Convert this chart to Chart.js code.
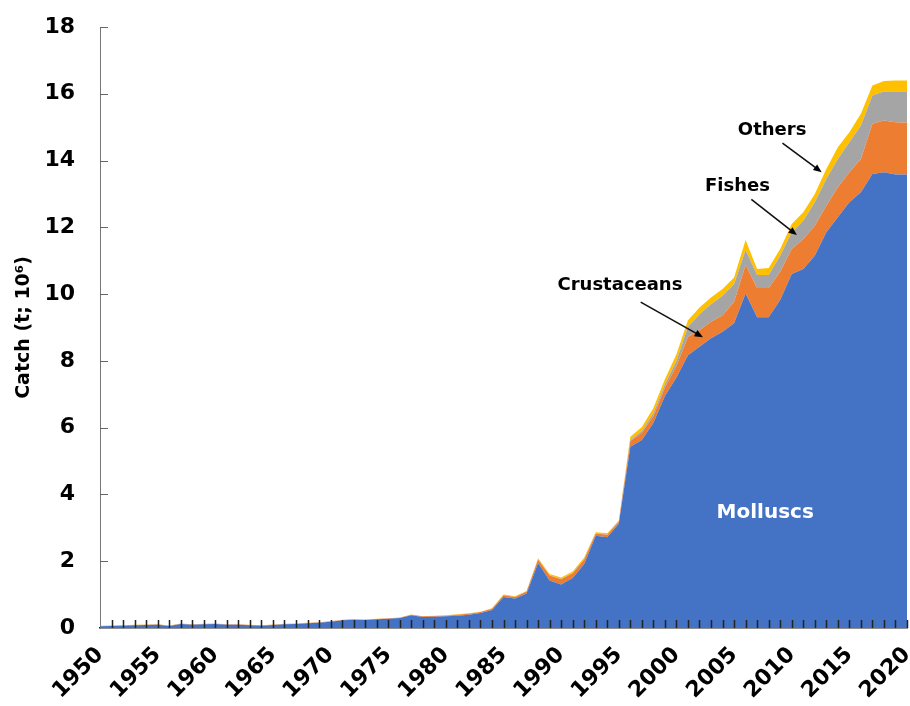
<!DOCTYPE html>
<html>
<head>
<meta charset="utf-8">
<script src="https://cdn.jsdelivr.net/npm/chart.js@4.4.1/dist/chart.umd.min.js"></script>
<style>
  html, body { margin: 0; padding: 0; background: #fff; }
  #wrap { width: 910px; height: 706px; position: relative; }
</style>
</head>
<body>
<div id="wrap"><canvas id="catchChart"></canvas></div>
<script>
const years = [];
for (let y = 1950; y <= 2020; y++) years.push(y);

const molluscs = [
  0.05, 0.06, 0.07, 0.08, 0.09, 0.10, 0.06, 0.12, 0.10, 0.11,
  0.12, 0.10, 0.10, 0.08, 0.07, 0.09, 0.11, 0.12, 0.14, 0.16,
  0.19, 0.23, 0.25, 0.24, 0.26, 0.28, 0.30, 0.38, 0.33, 0.34,
  0.35, 0.37, 0.40, 0.45, 0.54, 0.93, 0.88, 1.03, 1.95, 1.42,
  1.30, 1.50, 1.92, 2.76, 2.72, 3.12, 5.43, 5.63, 6.14, 6.95,
  7.50, 8.17, 8.42, 8.68, 8.87, 9.13, 10.02, 9.31, 9.31, 9.82,
  10.60, 10.75, 11.15, 11.85, 12.30, 12.75, 13.05, 13.60, 13.65, 13.58,
  13.58
];
const crustaceans = [
  0.01, 0.01, 0.01, 0.01, 0.01, 0.01, 0.01, 0.01, 0.01, 0.01,
  0.01, 0.01, 0.01, 0.01, 0.01, 0.01, 0.01, 0.01, 0.01, 0.01,
  0.01, 0.01, 0.01, 0.01, 0.01, 0.01, 0.01, 0.02, 0.02, 0.02,
  0.02, 0.03, 0.03, 0.03, 0.04, 0.05, 0.05, 0.06, 0.10, 0.15,
  0.16, 0.14, 0.13, 0.07, 0.07, 0.06, 0.17, 0.22, 0.21, 0.25,
  0.35, 0.55, 0.50, 0.49, 0.50, 0.64, 0.85, 0.87, 0.87, 0.85,
  0.75, 0.90, 0.90, 0.80, 0.90, 0.90, 1.00, 1.50, 1.55, 1.57,
  1.55
];
const fishes = [
  0, 0, 0, 0, 0, 0, 0, 0, 0, 0,
  0, 0, 0, 0, 0, 0, 0, 0, 0, 0,
  0, 0, 0, 0, 0, 0, 0, 0, 0, 0,
  0, 0, 0, 0, 0, 0, 0, 0, 0.01, 0.01,
  0.01, 0.01, 0.02, 0.01, 0.01, 0.01, 0.03, 0.05, 0.08, 0.10,
  0.15, 0.30, 0.48, 0.53, 0.58, 0.53, 0.45, 0.39, 0.39, 0.48,
  0.50, 0.55, 0.70, 0.80, 0.85, 0.90, 1.00, 0.85, 0.87, 0.92,
  0.94
];
const others = [
  0.005, 0.005, 0.005, 0.005, 0.005, 0.005, 0.005, 0.005, 0.005, 0.005,
  0.005, 0.005, 0.005, 0.005, 0.005, 0.005, 0.005, 0.005, 0.005, 0.005,
  0.005, 0.005, 0.005, 0.005, 0.005, 0.005, 0.005, 0.005, 0.005, 0.005,
  0.01, 0.01, 0.01, 0.01, 0.01, 0.02, 0.02, 0.02, 0.03, 0.04,
  0.04, 0.04, 0.04, 0.03, 0.04, 0.03, 0.10, 0.12, 0.16, 0.15,
  0.20, 0.20, 0.20, 0.20, 0.20, 0.20, 0.30, 0.18, 0.21, 0.20,
  0.25, 0.25, 0.25, 0.30, 0.35, 0.30, 0.35, 0.30, 0.31, 0.33,
  0.33
];

// text labels with arrows, in data units (year, catch)
const notes = [
  { text: 'Crustaceans', at: [1995.1, 10.27], from: [1996.9, 9.76], to: [2002.3, 8.71] },
  { text: 'Fishes', at: [2005.3, 13.23], from: [2006.5, 12.84], to: [2010.45, 11.77] },
  { text: 'Others', at: [2008.3, 14.91], from: [2009.2, 14.52], to: [2012.6, 13.65] }
];

const FONT = "'DejaVu Sans', sans-serif";

function xPix(scale, yr) {
  return scale.getPixelForValue(yr - years[0]);
}

const axisMarks = {
  id: 'axisMarks',
  afterDatasetsDraw(chart) {
    const { ctx, scales: { x, y } } = chart;
    ctx.save();
    ctx.strokeStyle = '#222';
    ctx.lineWidth = 1.5;
    ctx.beginPath();
    for (let i = 1; i < years.length; i++) {
      const px = Math.round(x.getPixelForValue(i)) + 0.5;
      ctx.moveTo(px, y.bottom);
      ctx.lineTo(px, y.bottom - 8);
    }
    ctx.stroke();
    ctx.strokeStyle = '#666';
    ctx.lineWidth = 1;
    ctx.beginPath();
    for (let v = 2; v <= 18; v += 2) {
      const py = Math.round(y.getPixelForValue(v)) + 0.5;
      ctx.moveTo(x.left, py);
      ctx.lineTo(x.left + 8, py);
    }
    ctx.stroke();

    // annotations
    ctx.font = 'bold 18px ' + FONT;
    ctx.textAlign = 'center';
    ctx.textBaseline = 'middle';
    ctx.fillStyle = '#000';
    ctx.strokeStyle = '#111';
    ctx.lineWidth = 1.6;
    notes.forEach(n => {
      ctx.fillText(n.text, xPix(x, n.at[0]), y.getPixelForValue(n.at[1]));
      const x1 = xPix(x, n.from[0]), y1 = y.getPixelForValue(n.from[1]);
      const x2 = xPix(x, n.to[0]), y2 = y.getPixelForValue(n.to[1]);
      const ang = Math.atan2(y2 - y1, x2 - x1);
      const hl = 9;
      ctx.beginPath();
      ctx.moveTo(x1, y1);
      ctx.lineTo(x2 - Math.cos(ang) * hl * 0.8, y2 - Math.sin(ang) * hl * 0.8);
      ctx.stroke();
      ctx.beginPath();
      ctx.moveTo(x2, y2);
      ctx.lineTo(x2 - hl * Math.cos(ang - 0.4), y2 - hl * Math.sin(ang - 0.4));
      ctx.lineTo(x2 - hl * Math.cos(ang + 0.4), y2 - hl * Math.sin(ang + 0.4));
      ctx.closePath();
      ctx.fill();
    });

    ctx.font = 'bold 20px ' + FONT;
    ctx.fillStyle = '#fff';
    ctx.fillText('Molluscs', xPix(x, 2007.7), y.getPixelForValue(3.44));
    ctx.restore();
  }
};

const series = [
  { label: 'Molluscs', data: molluscs, color: '#4472C4' },
  { label: 'Crustaceans', data: crustaceans, color: '#ED7D31' },
  { label: 'Fishes', data: fishes, color: '#A5A5A5' },
  { label: 'Others', data: others, color: '#FFC000' }
];

new Chart(document.getElementById('catchChart'), {
  type: 'line',
  data: {
    labels: years,
    datasets: series.map((s, i) => ({
      label: s.label,
      data: s.data,
      backgroundColor: s.color,
      borderColor: s.color,
      borderWidth: 0,
      pointRadius: 0,
      tension: 0,
      fill: i === 0 ? 'origin' : '-1'
    }))
  },
  options: {
    responsive: true,
    maintainAspectRatio: false,
    animation: false,
    layout: { padding: { top: 27, right: 3, left: 0, bottom: 0 } },
    plugins: {
      legend: { display: false },
      tooltip: { enabled: false }
    },
    scales: {
      x: {
        offset: false,
        z: 1,
        afterFit(scale) {
          scale.height = 78;
          scale.paddingLeft = 0;
          scale.paddingRight = 0;
        },
        grid: { display: true, drawOnChartArea: false, drawTicks: false },
        border: { display: true, color: '#222', width: 1.5 },
        ticks: {
          autoSkip: false,
          maxRotation: 45,
          minRotation: 45,
          padding: 14,
          color: '#000',
          font: { family: FONT, size: 22, weight: 'bold' },
          callback(value) {
            const yr = years[value];
            return yr % 5 === 0 ? String(yr) : '';
          }
        }
      },
      y: {
        stacked: true,
        min: 0,
        max: 18,
        afterFit(scale) {
          scale.width = 100;
          scale.paddingTop = 0;
          scale.paddingBottom = 0;
        },
        grid: { display: true, drawOnChartArea: false, drawTicks: false },
        border: { display: true, color: '#777', width: 1 },
        ticks: {
          stepSize: 2,
          padding: 25,
          color: '#000',
          font: { family: FONT, size: 22, weight: 'bold' }
        },
        title: {
          display: true,
          text: 'Catch (t; 10\u2076)',
          color: '#000',
          padding: { top: 13, bottom: 0 },
          font: { family: FONT, size: 19, weight: 'bold' }
        }
      }
    }
  },
  plugins: [axisMarks]
});
</script>
</body>
</html>
